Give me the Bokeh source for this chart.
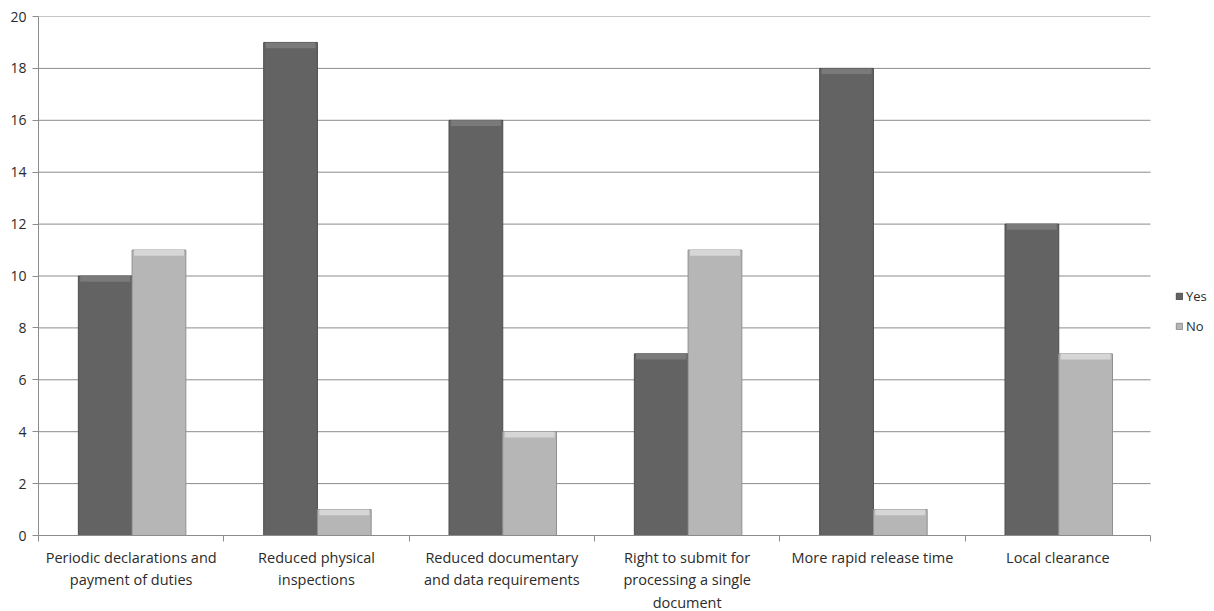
from bokeh.plotting import figure
from bokeh.models import ColumnDataSource, FixedTicker, Legend, LegendItem
from bokeh.embed import file_html
from bokeh.resources import INLINE

categories = [
    "Periodic declarations and\npayment of duties",
    "Reduced physical\ninspections",
    "Reduced documentary\nand data requirements",
    "Right to submit for\nprocessing a single\ndocument",
    "More rapid release time",
    "Local clearance",
]
yes_values = [10, 19, 16, 7, 18, 12]
no_values = [11, 1, 4, 11, 1, 7]
y_ticks = [0, 2, 4, 6, 8, 10, 12, 14, 16, 18, 20]

n = len(categories)
centers = [i + 0.5 for i in range(n)]
bar_w = 0.29
src = ColumnDataSource(dict(
    x_yes=[c - bar_w / 2 + 0.005 for c in centers],
    x_no=[c + bar_w / 2 + 0.005 for c in centers],
    yes=yes_values,
    no=no_values,
    yes_bev=[v - 0.22 for v in yes_values],
    no_bev=[v - 0.22 for v in no_values],
))
grid_src = ColumnDataSource(dict(y=y_ticks[1:], x0=[0] * (len(y_ticks) - 1),
                                 x1=[n] * (len(y_ticks) - 1)))

FONT = "Open Sans"
TXT = "#2b2b2b"
GRID = "#8c8c8c"

plot_w = 1112
extra_w = 64
p = figure(frame_width=plot_w + extra_w, frame_height=519,
           x_range=(0, n * (plot_w + extra_w) / plot_w), y_range=(0, 20),
           output_backend="svg", toolbar_location=None,
           min_border_left=38, min_border_top=16, min_border_bottom=76, min_border_right=0)
p.outline_line_color = None
p.background_fill_color = "white"

# horizontal gridlines, limited to the category area
p.segment(x0="x0", x1="x1", y0="y", y1="y", source=grid_src,
          line_color=GRID, line_width=1)

r_yes = p.vbar(x="x_yes", top="yes", bottom=0, width=bar_w, source=src,
               fill_color="#636363", line_color="#4d4d4d", line_width=1)
p.vbar(x="x_yes", top="yes", bottom="yes_bev", width=bar_w - 0.02, source=src,
       fill_color="#7a7a7a", line_color=None)
r_no = p.vbar(x="x_no", top="no", bottom=0, width=bar_w, source=src,
              fill_color="#b6b6b6", line_color="#909090", line_width=1)
p.vbar(x="x_no", top="no", bottom="no_bev", width=bar_w - 0.02, source=src,
       fill_color="#d6d6d6", line_color=None)

# x axis
p.xaxis.bounds = (0, n)
p.xaxis.ticker = FixedTicker(ticks=centers, minor_ticks=list(range(n + 1)))
p.xaxis.major_label_overrides = {c: lab for c, lab in zip(centers, categories)}
p.xaxis.major_tick_line_color = None
p.xaxis.minor_tick_line_color = GRID
p.xaxis.minor_tick_out = 6
p.xaxis.minor_tick_in = 0
p.xaxis.axis_line_color = GRID
p.xaxis.major_label_text_font = FONT
p.xaxis.major_label_text_font_size = "14.5px"
p.xaxis.major_label_text_color = TXT
p.xaxis.major_label_standoff = 6
p.xgrid.grid_line_color = None

# y axis
p.yaxis.ticker = FixedTicker(ticks=y_ticks)
p.yaxis.minor_tick_line_color = None
p.yaxis.major_tick_line_color = GRID
p.yaxis.major_tick_out = 6
p.yaxis.major_tick_in = 0
p.yaxis.axis_line_color = GRID
p.yaxis.major_label_text_font = FONT
p.yaxis.major_label_text_font_size = "14px"
p.yaxis.major_label_text_color = TXT
p.yaxis.major_label_standoff = 6
p.ygrid.grid_line_color = None

legend = Legend(items=[LegendItem(label="Yes", renderers=[r_yes]),
                       LegendItem(label="No", renderers=[r_no])],
                location=(1137, 200), border_line_color=None,
                background_fill_alpha=0,
                glyph_width=8, glyph_height=8, label_standoff=3, spacing=12,
                label_text_font=FONT, label_text_font_size="13px",
                label_text_color=TXT, padding=0, margin=0)
p.add_layout(legend, "center")

open("out.html", "w").write(file_html(p, INLINE))
